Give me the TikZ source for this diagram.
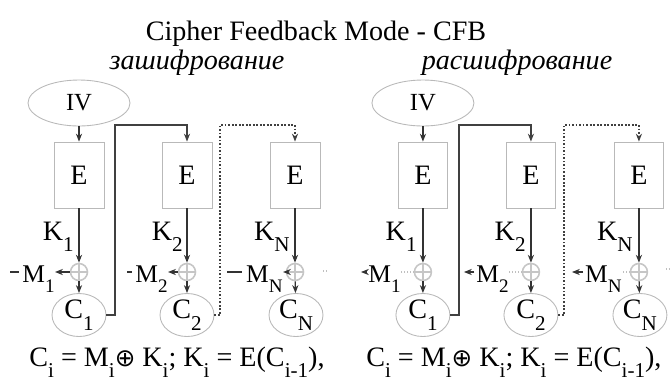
\documentclass[tikz,border=0pt]{standalone}
\usepackage{fontspec}
\setmainfont{Liberation Serif}
\newfontfamily\symfont{DejaVu Sans}
\usepackage{graphicx}
\usetikzlibrary{shapes.geometric,arrows.meta}
\newcommand{\lowsub}[1]{\raisebox{-0.42em}{\scalebox{0.75}{#1}}}

\begin{document}
\begin{tikzpicture}[x=0.02cm, y=-0.02cm,
  ivell/.style={ellipse, draw=gray!55, line width=0.5pt, minimum width=2.04cm, minimum height=0.92cm, inner sep=0pt, font=\fontsize{14}{14}\selectfont},
  encbox/.style={rectangle, draw=gray!55, line width=0.5pt, minimum width=1cm, minimum height=1.32cm, inner sep=0pt, font=\fontsize{16}{16}\selectfont},
  cell/.style={ellipse, draw=gray!55, line width=0.5pt, minimum width=1.08cm, minimum height=0.72cm, inner sep=0pt, font=\fontsize{16}{16}\selectfont},
  xorc/.style={circle, draw=gray!45, line width=0.9pt, minimum size=0.34cm, inner sep=0pt,
    path picture={\draw[gray!45, line width=0.9pt] (path picture bounding box.north) -- (path picture bounding box.south)
      (path picture bounding box.west) -- (path picture bounding box.east);}},
  lbl/.style={inner sep=0pt, font=\fontsize{16}{16}\selectfont},
  mlbl/.style={inner sep=0pt, anchor=base east, font=\fontsize{14.5}{14.5}\selectfont},
  wire/.style={black!80, line width=0.7pt},
  faint/.style={gray!50, line width=0.6pt, densely dotted},
  pointer/.style={-{Stealth[length=4.5pt,width=3.5pt]}, black!80, line width=0.75pt},
  feedback/.style={-{Stealth[length=4.5pt,width=3.5pt]}, black!75, line width=1.4pt},
  feedbackdots/.style={-{Stealth[length=4.5pt,width=3.5pt]}, black!75, line width=1pt, densely dotted}]
\useasboundingbox (0,0) rectangle (670,380);

% titles
\node[lbl, anchor=base] (title) at (316,40) {Cipher Feedback Mode - CFB};
\node[lbl, anchor=base, font=\itshape\fontsize{16}{16}\selectfont] (encT) at (197,69) {зашифрование};
\node[lbl, anchor=base, font=\itshape\fontsize{16}{16}\selectfont] (decT) at (517,69) {расшифрование};

% encryption
\begin{scope}
  \node[ivell] (ivA) at (79,103) {IV};
  \node[encbox] (eA1) at (79,175) {E};
  \node[encbox] (eA2) at (187,175) {E};
  \node[encbox] (eA3) at (295,175) {E};
  \node[xorc] (xA1) at (79,272) {};
  \node[xorc] (xA2) at (187,272) {};
  \node[xorc] (xA3) at (295,272) {};
  \node[cell] (cA1) at (79,315) {C\lowsub{1}};
  \node[cell] (cA2) at (187,315) {C\lowsub{2}};
  \node[cell] (cA3) at (296,315) {C\lowsub{N}};
  \node[lbl, anchor=base east] (kA1) at (74,240) {K\lowsub{1}};
  \node[lbl, anchor=base east] (kA2) at (183,240) {K\lowsub{2}};
  \node[lbl, anchor=base east] (kA3) at (290,240) {K\lowsub{N}};
  \node[mlbl] (mA1) at (55,282) {M\lowsub{1}};
  \node[mlbl] (mA2) at (168,282) {M\lowsub{2}};
  \node[mlbl] (mA3) at (283,282) {M\lowsub{N}};
  \node[lbl, anchor=base] (fA) at (177,366) {C\lowsub{i} = M\lowsub{i}{\symfont\fontsize{14}{14}\selectfont ⊕} K\lowsub{i}; K\lowsub{i} = E(C\lowsub{i-1}),};
  \coordinate (dA1) at (10,272);
  \coordinate (dA2) at (127,272);
  \coordinate (dA3) at (227,272);
  \coordinate (fbA1) at (115,125);
  \coordinate (fbA2) at (220,125);
  \coordinate (hA1) at (323,271);
  \coordinate (hA2) at (327,271);
  \draw[pointer] (ivA) -- (eA1);
  \draw[pointer] (eA1) -- (xA1);
  \draw[pointer] (eA2) -- (xA2);
  \draw[pointer] (eA3) -- (xA3);
  \draw[pointer] (xA1) -- (cA1);
  \draw[pointer] (xA2) -- (cA2);
  \draw[pointer] (xA3) -- (cA3);
  \draw[pointer] (xA1.west) -- (xA1.west -| mA1.east);
  \draw[pointer] (xA2.west) -- (xA2.west -| mA2.east);
  \draw[pointer] (xA3.west) -- (xA3.west -| mA3.east);
  \draw[wire] (dA1) -- ([xshift=-2pt]mA1.west |- dA1);
  \draw[wire] (dA2) -- ([xshift=-2pt]mA2.west |- dA2);
  \draw[wire] (dA3) -- ([xshift=-2pt]mA3.west |- dA3);
  \draw[feedback] (cA1.east) -| (fbA1) -| (eA2.north);
  \draw[feedbackdots] (cA2.east) -| (fbA2) -| (eA3.north);
  \draw[faint] (hA1) -- (hA2);
\end{scope}

% decryption
\begin{scope}[xshift=6.88cm]
  \node[ivell] (ivB) at (79,103) {IV};
  \node[encbox] (eB1) at (79,175) {E};
  \node[encbox] (eB2) at (187,175) {E};
  \node[encbox] (eB3) at (295,175) {E};
  \node[xorc] (xB1) at (79,272) {};
  \node[xorc] (xB2) at (187,272) {};
  \node[xorc] (xB3) at (295,272) {};
  \node[cell] (cB1) at (79,315) {C\lowsub{1}};
  \node[cell] (cB2) at (187,315) {C\lowsub{2}};
  \node[cell] (cB3) at (296,315) {C\lowsub{N}};
  \node[lbl, anchor=base east] (kB1) at (73,240) {K\lowsub{1}};
  \node[lbl, anchor=base east] (kB2) at (182,240) {K\lowsub{2}};
  \node[lbl, anchor=base east] (kB3) at (289,240) {K\lowsub{N}};
  \node[mlbl] (mB1) at (57,282) {M\lowsub{1}};
  \node[mlbl] (mB2) at (165,282) {M\lowsub{2}};
  \node[mlbl] (mB3) at (278,282) {M\lowsub{N}};
  \node[lbl, anchor=base] (fB) at (170,366) {C\lowsub{i} = M\lowsub{i}{\symfont\fontsize{14}{14}\selectfont ⊕} K\lowsub{i}; K\lowsub{i} = E(C\lowsub{i-1}),};
  \coordinate (dB1) at (17,272);
  \coordinate (dB2) at (120,272);
  \coordinate (dB3) at (228,272);
  \coordinate (fbB1) at (115,125);
  \coordinate (fbB2) at (220,125);
  \coordinate (hB1) at (322,269);
  \coordinate (hB2) at (326,269);
  \draw[pointer] (ivB) -- (eB1);
  \draw[pointer] (eB1) -- (xB1);
  \draw[pointer] (eB2) -- (xB2);
  \draw[pointer] (eB3) -- (xB3);
  \draw[pointer] (xB1) -- (cB1);
  \draw[pointer] (xB2) -- (cB2);
  \draw[pointer] (xB3) -- (cB3);
  \draw[faint] (xB1.west) -- (xB1.west -| mB1.east);
  \draw[faint] (xB2.west) -- (xB2.west -| mB2.east);
  \draw[faint] (xB3.west) -- (xB3.west -| mB3.east);
  \draw[pointer] ([xshift=-1pt]mB1.west |- dB1) -- (dB1);
  \draw[pointer] ([xshift=-1pt]mB2.west |- dB2) -- (dB2);
  \draw[pointer] ([xshift=-1pt]mB3.west |- dB3) -- (dB3);
  \draw[feedback] (cB1.east) -| (fbB1) -| (eB2.north);
  \draw[feedbackdots] (cB2.east) -| (fbB2) -| (eB3.north);
  \draw[faint] (hB1) -- (hB2);
\end{scope}
\end{tikzpicture}
\end{document}
